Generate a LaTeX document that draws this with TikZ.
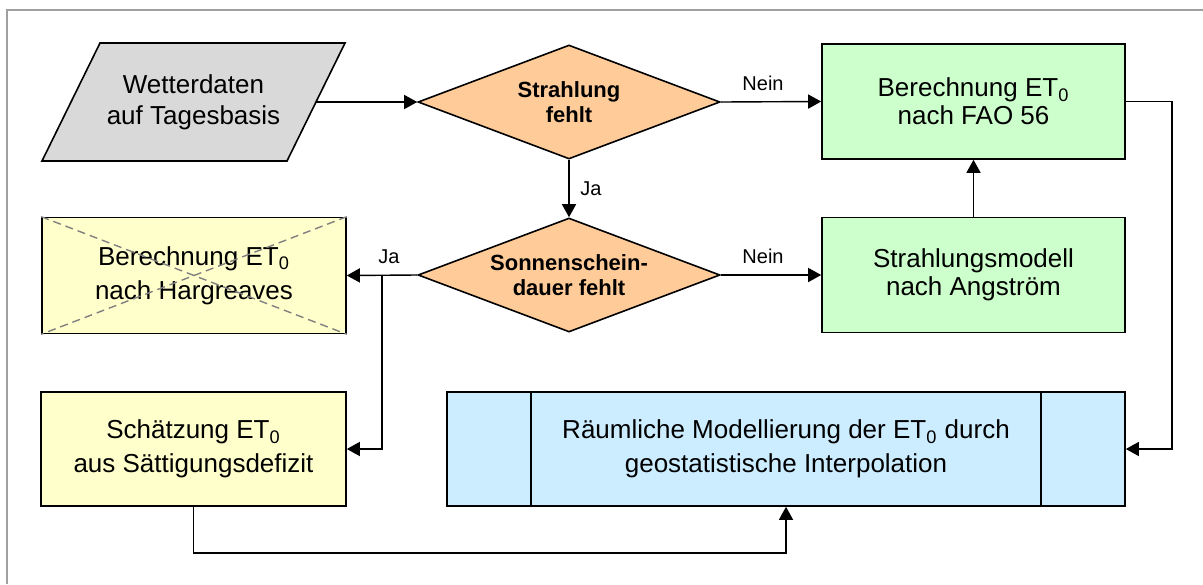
\documentclass[tikz,border=0pt]{standalone}
\usepackage{fontspec}
\setmainfont{Liberation Sans}
\usetikzlibrary{shapes.geometric,arrows.meta}

\definecolor{grau}{RGB}{217,217,217}
\definecolor{pfirsich}{RGB}{255,204,153}
\definecolor{hellgruen}{RGB}{204,255,204}
\definecolor{hellgelb}{RGB}{255,255,204}
\definecolor{hellblau}{RGB}{204,236,255}
\definecolor{rahmen}{RGB}{160,160,160}

\tikzset{
  kasten/.style={draw, line width=0.8pt, minimum width=151.5pt, minimum height=57.5pt,
    align=center, inner sep=0pt, font=\fontsize{13}{14}\selectfont},
  weit/.style={font=\fontsize{13}{17}\selectfont},
  daten/.style={draw, line width=0.8pt, fill=grau},
  datentext/.style={minimum width=122.5pt, minimum height=59pt, inner sep=0pt, align=center,
    font=\fontsize{13}{15.5}\selectfont},
  frage/.style={diamond, aspect=2.65, draw, line width=0.8pt, fill=pfirsich, inner sep=0pt,
    minimum width=151pt, minimum height=57pt, align=center,
    font=\fontsize{11}{12.5}\selectfont\bfseries},
  pfeil/.style={line width=0.7pt, -{Triangle[length=6.5pt,width=7pt]}},
  antwort/.style={font=\fontsize{10}{12}\selectfont},
  kreuz/.style={draw=black!50, line width=0.7pt, dash pattern=on 4pt off 2.5pt}
}

\begin{document}
\begin{tikzpicture}[x=0.5pt, y=-0.5pt]
\useasboundingbox (0,0) rectangle (1203,584);
\draw [rahmen, line width=0.6pt] (7,584) -- (7,10) -- (1203,10);

% Eingangsdaten (Parallelogramm) und Abfragen
\coordinate (wetm) at (193.5,102);
\draw [daten] (wetm) ++(-151.5,59) -- ++(245,0) -- ++(58,-118) -- ++(-245,0) -- cycle;
\node [datentext] (wet) at (wetm) {Wetterdaten\\auf Tagesbasis};
\node [frage] (q1) at (569,102) {Strahlung\\fehlt};
\node [frage] (q2) at (569,275) {Sonnenschein-\\dauer fehlt};

% Berechnungswege
\node [kasten, fill=hellgruen] (fao) at (973.5,101.5) {Berechnung ET\textsubscript{0}\\nach FAO 56};
\node [kasten, fill=hellgruen] (ang) at (973.5,275) {Strahlungsmodell\\nach Angström};
\node [kasten, weit, fill=hellgelb, minimum width=152pt, minimum height=58pt] (harg) at (194,275.5)
  {Berechnung ET\textsubscript{0}\\nach Hargreaves};
\draw [kreuz] (harg.north west) -- (harg.south east) (harg.north east) -- (harg.south west);
\node [kasten, weit, fill=hellgelb, minimum width=152.5pt, minimum height=57pt] (saet) at (193.5,449)
  {Schätzung ET\textsubscript{0}\\aus Sättigungsdefizit};

% Regionalisierung
\node [kasten, weit, fill=hellblau, minimum width=339pt, minimum height=57pt] (raum) at (786,449)
  {Räumliche Modellierung der ET\textsubscript{0} durch\\geostatistische Interpolation};
\draw [line width=0.8pt] ([xshift=42.5pt]raum.north west) -- ([xshift=42.5pt]raum.south west);
\draw [line width=0.8pt] ([xshift=-42.5pt]raum.north east) -- ([xshift=-42.5pt]raum.south east);

% Verbindungen
\coordinate (abzw) at (382,275);
\draw [pfeil] (wet.east) -- (q1.west);
\draw [pfeil] (q1.east) -- node [antwort, above, yshift=2pt, xshift=-4pt] {Nein} (fao.west);
\draw [pfeil] (q1.south) -- node [antwort, right, xshift=2pt] {Ja} (q2.north);
\draw [pfeil] (q2.east) -- node [antwort, above, yshift=2pt, xshift=-4pt] {Nein} (ang.west);
\draw [pfeil] (ang.north) -- (fao.south);
\draw [pfeil] (q2.west) -- node [antwort, above, yshift=2pt, xshift=3.5pt] {Ja} (harg.east);
\draw [pfeil] (abzw) |- (saet.east);
\draw [pfeil] (fao.east) -- ++(46,0) |- (raum.east);
\draw [pfeil] (saet.south) -- ++(0,46) -| (raum.south);

\end{tikzpicture}
\end{document}
